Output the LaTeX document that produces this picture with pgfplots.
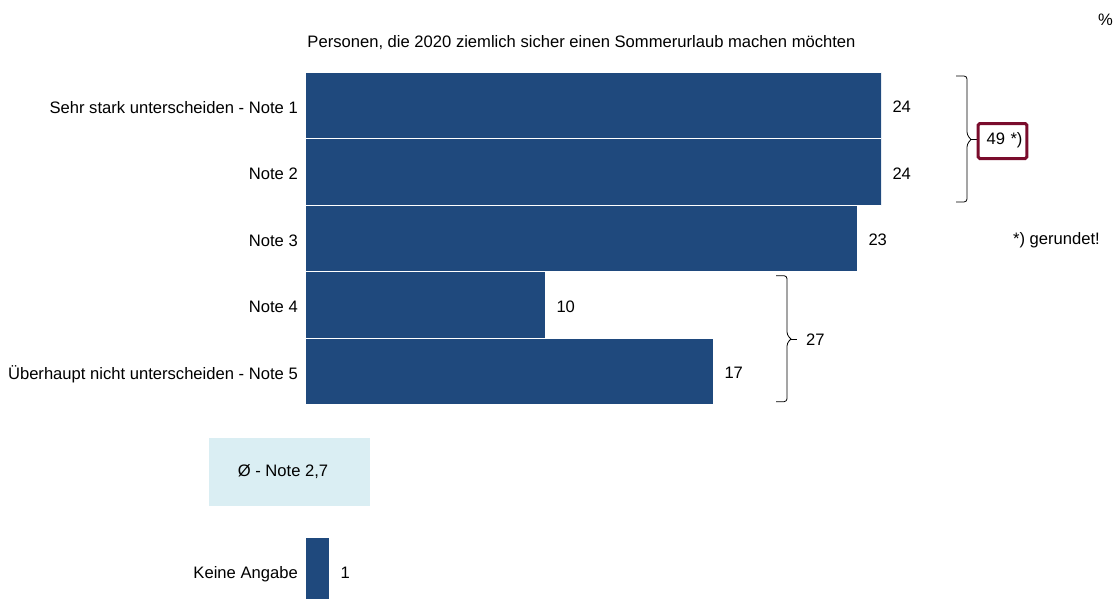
\documentclass[border=0pt]{standalone}
\usepackage{pgfplots}
\pgfplotsset{compat=1.18}
\usepackage{fontspec}
\setmainfont{Liberation Sans}
\definecolor{barblue}{HTML}{1F497D}
\definecolor{avgblue}{HTML}{DAEEF3}
\definecolor{boxred}{HTML}{7A0C2C}
\newcommand{\chartfont}{\fontsize{16.6}{19}\selectfont}
\begin{document}
\begin{tikzpicture}[font=\chartfont]
\path[use as bounding box] (0pt,0pt) rectangle (1118pt,-598pt);
% average box
\fill[avgblue] (209pt,-438pt) rectangle (370pt,-505.5pt);
\node at (283pt,-472pt) {Ø - Note 2,7};
\begin{axis}[
  at={(305pt,-72.5pt)}, anchor=north west,
  scale only axis, width=576pt, height=525.5pt,
  xmin=0, xmax=24, ymin=-0.5, ymax=7.406,
  y dir=reverse,
  axis line style={draw=none},
  major tick length=0pt,
  xtick=\empty,
  ytick={0,1,2,3,4,7},
  yticklabels={Sehr stark unterscheiden - Note 1, Note 2, Note 3, Note 4, Überhaupt nicht unterscheiden - Note 5, Keine Angabe},
  yticklabel style={font=\chartfont, inner sep=0pt, anchor=base east, xshift=-7pt, yshift=-7.4pt},
  xbar, bar width=1,
  nodes near coords,
  /pgf/number format/assume math mode=true,
  nodes near coords style={font=\chartfont, anchor=base west, inner sep=0pt, xshift=11pt, yshift=-7.2pt},
]
\addplot[fill=barblue, draw=white, line width=1pt] coordinates {(24,0) (24,1) (23,2) (10,3) (17,4) (1,7)};
\end{axis}
% title and unit
\node[anchor=base] at (581.5pt,-47pt) {Personen, die 2020 ziemlich sicher einen Sommerurlaub machen möchten};
\node at (1105.5pt,-20pt) {\%};
% bracket 1
\draw[line width=0.8pt, rounded corners=3pt] (956pt,-76pt) -- (967pt,-76pt) -- (967pt,-135pt) -- (971pt,-139.5pt);
\draw[line width=0.8pt, rounded corners=3pt] (956pt,-202pt) -- (967pt,-202pt) -- (967pt,-144pt) -- (971pt,-139.5pt);
\draw[line width=0.8pt] (970pt,-139.5pt) -- (977pt,-139.5pt);
\draw[boxred, line width=3pt, rounded corners=1.5pt] (978.2pt,-123.5pt) rectangle (1026.8pt,-158.5pt);
\node at (1004.5pt,-140pt) {49\,\,*)};
\node[anchor=east, inner sep=0pt] at (1100pt,-240pt) {*) gerundet!};
% bracket 2
\draw[line width=0.8pt, rounded corners=3pt] (776pt,-275.7pt) -- (787pt,-275.7pt) -- (787pt,-335pt) -- (791pt,-339pt);
\draw[line width=0.8pt, rounded corners=3pt] (776pt,-401.7pt) -- (787pt,-401.7pt) -- (787pt,-343pt) -- (791pt,-339pt);
\draw[line width=0.8pt] (790pt,-339pt) -- (797pt,-339pt);
\node[anchor=west, inner sep=0pt] at (806pt,-340pt) {27};
\end{tikzpicture}
\end{document}
